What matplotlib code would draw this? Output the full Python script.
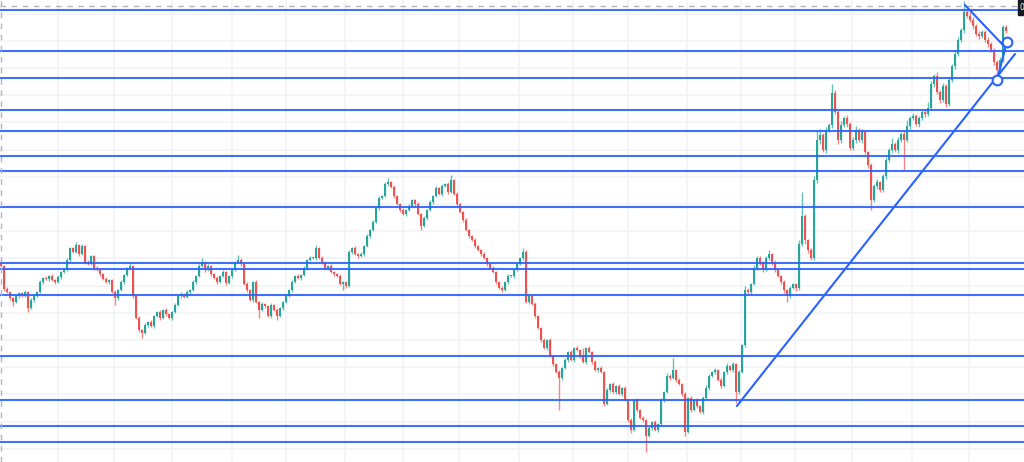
import numpy as np
import matplotlib.pyplot as plt
from matplotlib.patches import Rectangle

# closing prices, one per candle (arbitrary price units)
closes = [
    196, 173, 170, 164, 160, 166, 169, 166, 170, 154, 162, 166, 170, 180, 184, 183, 186, 182, 180, 185,
    190, 192, 202, 214, 210, 217, 208, 216, 200, 198, 206, 194, 192, 188, 183, 180, 182, 170, 164, 172,
    180, 187, 194, 196, 166, 144, 132, 129, 137, 140, 136, 146, 150, 144, 152, 148, 144, 150, 157, 166,
    168, 165, 170, 172, 180, 186, 196, 200, 192, 196, 188, 184, 180, 186, 190, 179, 186, 192, 200, 202,
    198, 178, 172, 162, 180, 160, 152, 158, 156, 146, 157, 152, 146, 154, 160, 166, 172, 180, 186, 184,
    187, 194, 202, 204, 204, 214, 204, 200, 194, 196, 190, 188, 186, 178, 180, 176, 210, 214, 208, 206,
    208, 216, 226, 232, 240, 254, 264, 266, 278, 280, 275, 266, 258, 252, 248, 252, 256, 262, 258, 248,
    236, 244, 252, 260, 266, 274, 268, 276, 278, 270, 282, 268, 258, 250, 242, 232, 226, 222, 216, 212,
    208, 204, 198, 194, 190, 180, 174, 172, 180, 186, 186, 192, 198, 204, 210, 160, 166, 158, 146, 134,
    122, 114, 122, 106, 98, 90, 84, 94, 102, 110, 102, 114, 112, 106, 100, 114, 110, 100, 92, 94,
    90, 58, 72, 78, 70, 76, 68, 74, 62, 42, 32, 62, 52, 44, 42, 26, 34, 40, 32, 38,
    62, 70, 86, 84, 92, 82, 78, 68, 30, 64, 52, 62, 56, 50, 64, 74, 86, 90, 92, 82,
    76, 90, 96, 92, 98, 70, 90, 117, 172, 170, 178, 194, 204, 200, 192, 204, 208, 200, 192, 186,
    180, 172, 166, 174, 178, 174, 218, 246, 222, 212, 204, 282, 322, 327, 312, 332, 337, 369, 350, 322,
    337, 344, 338, 314, 322, 332, 322, 330, 310, 297, 262, 276, 280, 272, 286, 302, 312, 318, 312, 322,
    328, 322, 336, 344, 346, 338, 344, 350, 348, 354, 378, 386, 370, 362, 376, 358, 382, 396, 408, 422,
    432, 450, 446, 442, 436, 428, 426, 430, 422, 418, 412, 400, 392, 402, 435, 431,
]
first_open = 200

# wick lengths above / below the body
up_wick = [
    2, 1, 2, 1, 1, 2, 1, 1, 2, 1, 2, 1, 1, 2, 1, 2, 1, 2, 1, 2,
    1, 2, 2, 1, 1, 3, 1, 2, 1, 2, 1, 1, 2, 1, 1, 2, 1, 1, 2, 1,
    2, 1, 1, 3, 1, 1, 2, 1, 2, 1, 2, 1, 1, 2, 1, 2, 1, 1, 2, 1,
    2, 1, 2, 1, 2, 1, 2, 4, 1, 2, 1, 1, 2, 1, 2, 1, 1, 2, 1, 5,
    2, 1, 2, 1, 1, 2, 1, 2, 1, 1, 2, 1, 2, 1, 1, 2, 1, 2, 1, 2,
    1, 2, 1, 2, 1, 3, 1, 2, 1, 1, 2, 1, 1, 2, 1, 1, 2, 1, 2, 1,
    2, 1, 2, 1, 2, 1, 2, 1, 2, 4, 1, 2, 1, 1, 2, 1, 2, 1, 1, 2,
    1, 2, 1, 2, 1, 2, 1, 2, 1, 2, 5, 1, 2, 1, 1, 2, 1, 1, 2, 1,
    1, 2, 1, 1, 2, 1, 1, 2, 1, 2, 1, 1, 2, 1, 4, 2, 1, 1, 2, 1,
    1, 2, 1, 2, 1, 1, 2, 1, 2, 1, 2, 1, 2, 1, 8, 1, 2, 1, 2, 1,
    2, 1, 2, 1, 2, 1, 2, 1, 2, 1, 2, 1, 2, 1, 2, 1, 2, 1, 2, 1,
    2, 1, 3, 2, 12, 1, 2, 1, 2, 1, 2, 1, 2, 1, 2, 3, 2, 1, 2, 1,
    2, 1, 3, 1, 2, 1, 2, 1, 4, 2, 1, 3, 2, 2, 1, 2, 4, 1, 2, 1,
    1, 2, 1, 2, 1, 1, 4, 24, 2, 1, 2, 4, 10, 6, 2, 3, 2, 9, 3, 2,
    4, 2, 3, 2, 3, 4, 2, 3, 2, 1, 2, 2, 3, 1, 2, 3, 2, 6, 2, 3,
    2, 3, 6, 2, 3, 2, 2, 3, 2, 6, 3, 2, 4, 2, 3, 2, 3, 2, 4, 3,
    2, 11, 2, 4, 3, 2, 3, 2, 2, 3, 2, 2, 2, 3, 2, 2,
]
down_wick = [
    1, 2, 1, 2, 4, 1, 2, 1, 1, 4, 1, 2, 1, 1, 2, 1, 2, 1, 2, 1,
    2, 1, 1, 2, 1, 1, 2, 1, 2, 1, 1, 2, 1, 2, 1, 1, 2, 1, 7, 2,
    1, 2, 1, 1, 2, 1, 2, 5, 1, 2, 1, 2, 1, 2, 1, 2, 1, 2, 1, 1,
    2, 1, 1, 2, 1, 2, 1, 1, 2, 1, 2, 1, 2, 1, 1, 2, 1, 2, 1, 1,
    2, 1, 2, 1, 2, 1, 8, 1, 2, 1, 2, 1, 4, 1, 2, 1, 1, 2, 1, 1,
    2, 1, 2, 1, 1, 2, 1, 2, 1, 2, 1, 2, 1, 1, 6, 2, 1, 2, 1, 2,
    1, 2, 1, 2, 1, 1, 2, 1, 1, 2, 1, 2, 1, 2, 1, 2, 1, 1, 2, 1,
    4, 1, 2, 1, 2, 1, 1, 2, 1, 2, 1, 1, 2, 1, 2, 1, 2, 1, 2, 1,
    2, 1, 2, 1, 1, 2, 1, 2, 1, 2, 1, 2, 1, 1, 2, 1, 2, 1, 2, 1,
    2, 1, 2, 1, 2, 1, 32, 2, 1, 2, 1, 2, 1, 2, 1, 2, 1, 2, 1, 2,
    1, 2, 1, 2, 1, 2, 1, 2, 1, 2, 3, 1, 2, 1, 2, 16, 1, 2, 1, 2,
    1, 2, 1, 2, 1, 2, 1, 2, 4, 1, 2, 1, 2, 1, 2, 1, 2, 1, 2, 1,
    2, 1, 2, 1, 2, 11, 2, 1, 2, 3, 2, 1, 2, 3, 2, 1, 2, 3, 2, 1,
    2, 3, 6, 2, 1, 3, 2, 2, 4, 3, 2, 2, 3, 4, 2, 3, 2, 3, 2, 4,
    3, 2, 3, 2, 2, 3, 2, 3, 2, 3, 10, 2, 3, 2, 2, 3, 2, 3, 2, 3,
    2, 30, 2, 3, 2, 2, 3, 2, 3, 2, 2, 3, 2, 3, 2, 3, 2, 2, 3, 2,
    2, 3, 2, 2, 3, 2, 3, 2, 2, 3, 2, 3, 8, 2, 2, 2,
]

# horizontal levels drawn on the chart
levels = [452, 411, 384, 352, 331, 306, 291, 255, 199, 193, 167, 106, 62, 36, 20]
top_dashed = 455.7

# trend lines (candle index, price)
up_trend = [(245.3, 56), (338.0, 408)]
down_trend = [(321.3, 457), (334.3, 416)]
connector = [(332.0, 382), (335.3, 420)]
circles = [(332.0, 382), (335.3, 420)]

# date grid lines (candle index)
date_grid = [19, 37.5, 57, 77, 95, 114.5, 134, 152.5, 172.5, 190.5, 209, 228.5,
             246.5, 264.5, 283.5, 303.5, 322.5]

closes = np.array(closes, dtype=float)
opens = np.concatenate([[first_open], closes[:-1]])
highs = np.maximum(opens, closes) + np.array(up_wick)
lows = np.minimum(opens, closes) - np.array(down_wick)
idx = np.arange(len(closes))

green = '#26a69a'
red = '#ef5350'
blue = '#2962ff'

fig = plt.figure(figsize=(10.24, 4.62), dpi=100)
ax = fig.add_axes([0, 0, 1, 1])
ax.set_xlim(-1 / 3, 341)
ax.set_ylim(0, 462)
ax.axis('off')

for g in date_grid:
    ax.axvline(g, color='#f2f3f6', lw=1.2, zorder=0)
for h in np.arange(13.2, 455, 27.2):
    ax.axhline(h, color='#f2f3f6', lw=1.2, zorder=0)

colors = np.where(closes >= opens, green, red)
ax.vlines(idx, lows, highs, colors=colors, lw=1.0, alpha=0.7, zorder=2)
body_h = np.abs(closes - opens)
body_h = np.maximum(body_h, 0.8)
ax.bar(idx, body_h, bottom=np.minimum(opens, closes), width=0.72,
       color=colors, linewidth=0, zorder=3)

for lv in levels:
    ax.axhline(lv, color=blue, lw=1.5, alpha=0.9, zorder=4)
ax.axhline(top_dashed, color='#b2b5be', lw=1, ls=(0, (4, 4)), zorder=4)
ax.axvline(0.0, color='#b2b5be', lw=1, ls=(0, (4, 4)), zorder=4)

for seg in (up_trend, down_trend, connector):
    xs, ys = zip(*seg)
    ax.plot(xs, ys, color=blue, lw=1.5, zorder=5, solid_capstyle='round')
cx, cy = zip(*circles)
ax.plot(cx, cy, 'o', ms=7, mfc='white', mec=blue, mew=1.5, zorder=6)

ax.add_patch(Rectangle((0.9945, 0.968), 0.02, 0.032, transform=ax.transAxes,
                       color='#131722', zorder=7, clip_on=False))
ax.text(0.9952, 0.984, '0', transform=ax.transAxes, color='white',
        fontsize=5.5, va='center', ha='left', zorder=8)

fig.savefig('out.png', dpi=100)
